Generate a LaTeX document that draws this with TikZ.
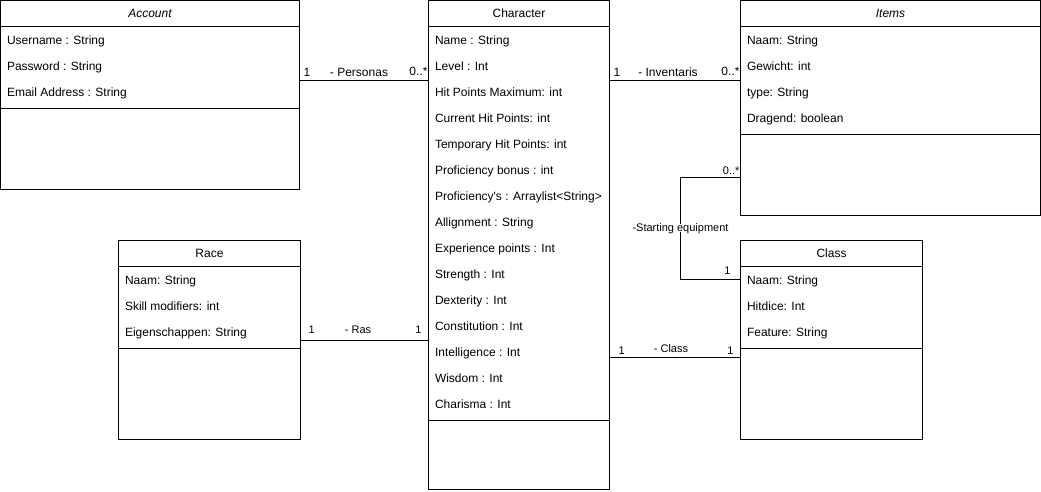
\documentclass[tikz,border=0pt]{standalone}
\usepackage{fontspec}
\setmainfont{Liberation Sans}
\begin{document}
\begin{tikzpicture}[x=1pt,y=-1pt,line width=1pt,
  box/.style={draw,line width=1pt,anchor=north west,inner sep=0pt,outer sep=0pt,fill=white},
  attr/.style={anchor=west,inner sep=0pt,font=\fontsize{12}{14}\selectfont,text height=8.6pt,text depth=0.4pt},
  hdr/.style={anchor=center,inner sep=0pt,font=\fontsize{12}{14}\selectfont,text height=8.6pt,text depth=0.4pt},
  lab/.style={inner sep=0pt,font=\fontsize{12}{14}\selectfont,text height=8.6pt,text depth=0.4pt},
  slab/.style={inner sep=0pt,font=\fontsize{11}{13}\selectfont,text height=7.9pt,text depth=0.2pt},
  conn/.style={draw,line width=1pt}]
\useasboundingbox (0,0) rectangle (1041,491);

% boxes
\node[box,minimum width=299pt,minimum height=189pt] (acc) at (0.5,0.5) {};
\node[box,minimum width=181pt,minimum height=489pt] (chr) at (428.5,0.5) {};
\node[box,minimum width=300pt,minimum height=215pt] (itm) at (740.5,0.5) {};
\node[box,minimum width=182pt,minimum height=199pt] (rac) at (118.5,240.5) {};
\node[box,minimum width=182pt,minimum height=199pt] (cls) at (740.5,240.5) {};

% header and separator lines
\foreach \b/\s in {acc/108,chr/420,itm/134,rac/108,cls/108}{
  \draw ([yshift=-26pt]\b.north west) -- ([yshift=-26pt]\b.north east);
  \draw ([yshift=-\s pt]\b.north west) -- ([yshift=-\s pt]\b.north east);
}

% headers
\node[hdr] (accT) at ([yshift=-13pt]acc.north) {\itshape Account};
\node[hdr] (chrT) at ([yshift=-13pt]chr.north) {Character};
\node[hdr] (itmT) at ([yshift=-13pt]itm.north) {\itshape Items};
\node[hdr] (racT) at ([yshift=-13pt]rac.north) {Race};
\node[hdr] (clsT) at ([yshift=-13pt]cls.north) {Class};

% Account attributes
\node[attr] (a1) at ([xshift=6pt,yshift=-40pt]acc.north west) {Username : String};
\node[attr] (a2) at ([xshift=6pt,yshift=-66pt]acc.north west) {Password : String};
\node[attr] (a3) at ([xshift=6pt,yshift=-92pt]acc.north west) {Email Address : String};

% Character attributes
\foreach \i/\t in {0/{Name : String},1/{Level : Int},2/{Hit Points Maximum: int},3/{Current Hit Points: int},4/{Temporary Hit Points: int},5/{Proficiency bonus : int},6/{Proficiency\textquotesingle s : Arraylist<String>},7/{Allignment : String},8/{Experience points : Int},9/{Strength : Int},10/{Dexterity : Int},11/{Constitution : Int},12/{Intelligence : Int},13/{Wisdom : Int},14/{Charisma : Int}}{
  \node[attr] (c\i) at ([xshift=6pt,yshift=-40pt-26pt*\i]chr.north west) {\t};
}

% Items attributes
\node[attr] (i1) at ([xshift=6pt,yshift=-40pt]itm.north west) {Naam: String};
\node[attr] (i2) at ([xshift=6pt,yshift=-66pt]itm.north west) {Gewicht: int};
\node[attr] (i3) at ([xshift=6pt,yshift=-92pt]itm.north west) {type: String};
\node[attr] (i4) at ([xshift=6pt,yshift=-118pt]itm.north west) {Dragend: boolean};

% Race attributes
\node[attr] (r1) at ([xshift=6pt,yshift=-40pt]rac.north west) {Naam: String};
\node[attr] (r2) at ([xshift=6pt,yshift=-66pt]rac.north west) {Skill modifiers: int};
\node[attr] (r3) at ([xshift=6pt,yshift=-92pt]rac.north west) {Eigenschappen: String};

% Class attributes
\node[attr] (k1) at ([xshift=6pt,yshift=-40pt]cls.north west) {Naam: String};
\node[attr] (k2) at ([xshift=6pt,yshift=-66pt]cls.north west) {Hitdice: Int};
\node[attr] (k3) at ([xshift=6pt,yshift=-92pt]cls.north west) {Feature: String};

% connector levels
\coordinate (yP) at (0,80.5);
\coordinate (yR) at (0,340.5);
\coordinate (yC) at (0,357.5);
\coordinate (yS1) at (0,177.5);
\coordinate (yS2) at (0,279.5);
\coordinate (sx) at (680.5,228);

% connectors
\draw[conn] (acc.east |- yP) -- (chr.west |- yP);
\draw[conn] (chr.east |- yP) -- (itm.west |- yP);
\draw[conn] (rac.east |- yR) -- (chr.west |- yR);
\draw[conn] (chr.east |- yC) -- (cls.west |- yC);
\draw[conn] (itm.west |- yS1) -| (sx) |- (cls.west |- yS2);

% labels
\node[lab,anchor=west] (lp1) at (303,72) {1};
\node[lab] (lp) at (359,72) {- Personas};
\node[lab,anchor=east] (lp2) at (428,71) {0..*};

\node[lab,anchor=west] (li1) at (613,72) {1};
\node[lab] (li) at (668,72) {- Inventaris};
\node[lab,anchor=east] (li2) at (740,71) {0..*};

\node[slab,anchor=east] (ls1) at (740,170.5) {0..*};
\node[slab,fill=white,inner xsep=1pt] (ls) at (sx) {-Starting equipment};
\node[slab,anchor=east] (ls2) at (731,271) {1};

\node[slab,anchor=west] (lr1) at (308,330) {1};
\node[slab] (lr) at (358,330) {- Ras};
\node[slab,anchor=east] (lr2) at (422,330) {1};

\node[slab,anchor=west] (lc1) at (618,351) {1};
\node[slab] (lc) at (671,349) {- Class};
\node[slab,anchor=east] (lc2) at (734,351) {1};
\end{tikzpicture}
\end{document}
